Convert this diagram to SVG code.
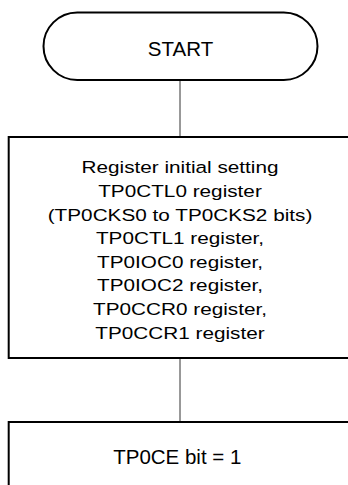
<svg xmlns="http://www.w3.org/2000/svg" width="348" height="485" viewBox="0 0 348 485">
<style>
.shape{fill:#fff;stroke:#000;stroke-width:2}
.conn{stroke:#333;stroke-width:1;fill:none}
.t{font-family:"Liberation Sans",Arial,sans-serif;font-size:20.5px;fill:#000;text-anchor:middle}
.b{font-size:17px}
</style>
<rect width="348" height="485" fill="#fff"/>
<g id="connectors">
<line class="conn" x1="180" y1="80" x2="180" y2="137"/>
<line class="conn" x1="180" y1="358" x2="180" y2="422"/>
</g>
<g id="start">
<rect class="shape" x="43.5" y="12.5" width="274" height="67.5" rx="33.75" ry="33.75"/>
<text class="t" x="180.5" y="55.5">START</text>
</g>
<g id="init">
<rect class="shape" x="8.7" y="137" width="360" height="221"/>
<g transform="translate(180,0) scale(1.22,1)">
<text class="t b" x="0" y="173.5">Register initial setting</text>
<text class="t b" x="0" y="197.1">TP0CTL0 register</text>
<text class="t b" x="0" y="220.7">(TP0CKS0 to TP0CKS2 bits)</text>
<text class="t b" x="0" y="244.3">TP0CTL1 register,</text>
<text class="t b" x="0" y="267.9">TP0IOC0 register,</text>
<text class="t b" x="0" y="291.5">TP0IOC2 register,</text>
<text class="t b" x="0" y="315.1">TP0CCR0 register,</text>
<text class="t b" x="0" y="338.7">TP0CCR1 register</text>
</g>
</g>
<g id="enable">
<rect class="shape" x="8.7" y="422" width="360" height="100"/>
<text class="t" x="177.3" y="463.5">TP0CE bit = 1</text>
</g>
</svg>
